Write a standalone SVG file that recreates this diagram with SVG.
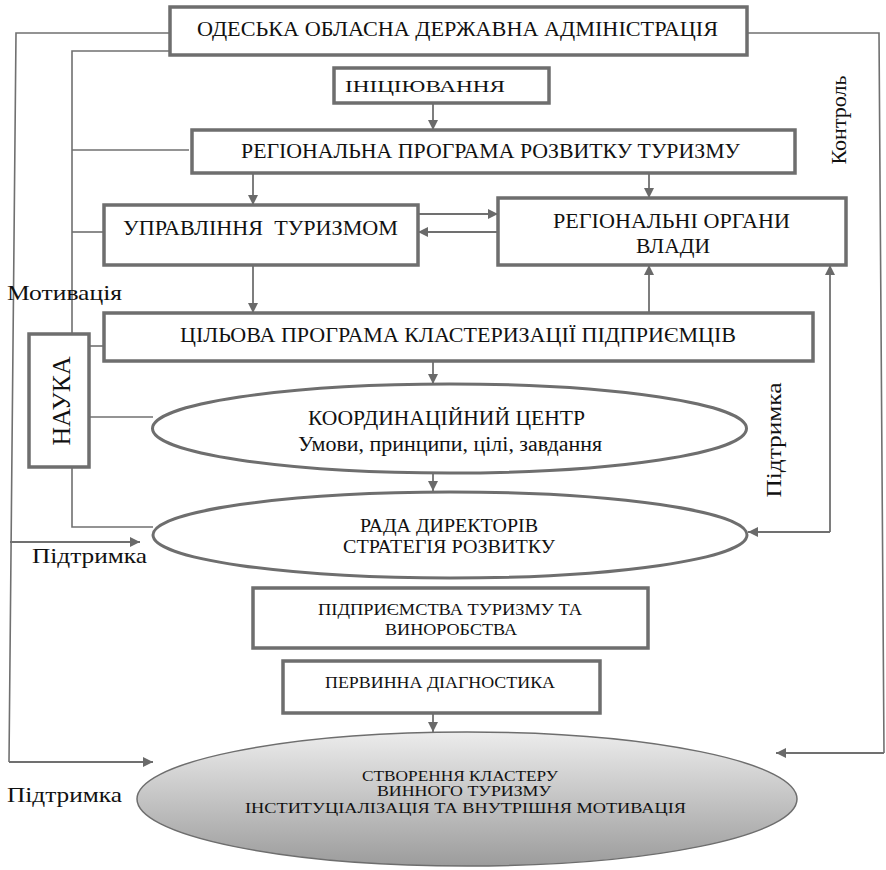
<svg xmlns="http://www.w3.org/2000/svg" width="886" height="870" viewBox="0 0 886 870">
<style>
.box{fill:#fff;stroke:#6e6e6e;stroke-width:3.5}
.ell{fill:#fff;stroke:#6e6e6e;stroke-width:3}
.ln{fill:none;stroke:#707070;stroke-width:1.6}
.ar{fill:none;stroke:#707070;stroke-width:1.8;marker-end:url(#ah)}
text{font-family:"Liberation Serif","Times New Roman",serif;fill:#111}
.c{text-anchor:middle}
</style>
<defs>
<marker id="ah" markerUnits="userSpaceOnUse" markerWidth="12" markerHeight="10" refX="10" refY="5" orient="auto">
<path d="M0,0 L10,5 L0,10 Z" fill="#6a6a6a"/>
</marker>
<linearGradient id="g" x1="0" y1="0" x2="0" y2="1">
<stop offset="0" stop-color="#ececec"/>
<stop offset="1" stop-color="#9c9c9c"/>
</linearGradient>
</defs>
<g id="connectors">
<polyline class="ln" points="170,33 16,33 9,762"/>
<polyline class="ln" points="170,51 72,51 72,334"/>
<line class="ln" x1="72" y1="150" x2="189" y2="150"/>
<line class="ln" x1="72" y1="232" x2="104" y2="232"/>
<line class="ln" x1="89" y1="346" x2="104" y2="346"/>
<line class="ln" x1="89" y1="417" x2="153" y2="417"/>
<polyline class="ln" points="72,467 72,527 153,527"/>
<line class="ar" x1="9" y1="762" x2="153" y2="762"/>
<line class="ar" x1="10" y1="542" x2="140" y2="542"/>
<polyline class="ln" points="747,33 879,33 884,753"/>
<line class="ar" x1="884" y1="753" x2="776" y2="753"/>
<line class="ar" x1="830" y1="532" x2="830" y2="265"/>
<line class="ar" x1="830" y1="532" x2="748" y2="532"/>
<line class="ar" x1="649" y1="313" x2="649" y2="265"/>
<line class="ar" x1="433" y1="103" x2="433" y2="130"/>
<line class="ar" x1="253" y1="174" x2="253" y2="205"/>
<line class="ar" x1="649" y1="173" x2="649" y2="198"/>
<line class="ar" x1="253" y1="265" x2="253" y2="313"/>
<line class="ar" x1="433" y1="361" x2="433" y2="384"/>
<line class="ar" x1="433" y1="473" x2="433" y2="491"/>
<line class="ar" x1="433" y1="713" x2="433" y2="732"/>
<line class="ar" x1="418" y1="214" x2="498" y2="214"/>
<line class="ar" x1="498" y1="232" x2="418" y2="232"/>
</g>
<g id="oda">
<rect class="box" x="170" y="7" width="577" height="48"/>
<text class="c" x="457.5" y="36" font-size="21" textLength="521" lengthAdjust="spacingAndGlyphs">ОДЕСЬКА ОБЛАСНА ДЕРЖАВНА АДМІНІСТРАЦІЯ</text>
</g>
<g id="init">
<rect class="box" x="334" y="68" width="215" height="35"/>
<text class="c" x="425" y="92" font-size="16" textLength="160" lengthAdjust="spacingAndGlyphs">ІНІЦІЮВАННЯ</text>
</g>
<g id="regprog">
<rect class="box" x="192" y="130" width="603" height="43"/>
<text class="c" x="490.5" y="158" font-size="20.5" textLength="499" lengthAdjust="spacingAndGlyphs">РЕГІОНАЛЬНА ПРОГРАМА РОЗВИТКУ ТУРИЗМУ</text>
</g>
<g id="upr">
<rect class="box" x="104" y="205" width="314" height="60"/>
<text class="c" x="260.5" y="235" font-size="21" textLength="275" lengthAdjust="spacingAndGlyphs" xml:space="preserve">УПРАВЛІННЯ  ТУРИЗМОМ</text>
</g>
<g id="organy">
<rect class="box" x="498" y="198" width="348" height="67"/>
<text class="c" x="671.5" y="228" font-size="21" textLength="237" lengthAdjust="spacingAndGlyphs">РЕГІОНАЛЬНІ ОРГАНИ</text>
<text class="c" x="673" y="253" font-size="21" textLength="74" lengthAdjust="spacingAndGlyphs">ВЛАДИ</text>
</g>
<g id="tsil">
<rect class="box" x="104" y="313" width="709" height="48"/>
<text class="c" x="458" y="342" font-size="21" textLength="556" lengthAdjust="spacingAndGlyphs">ЦІЛЬОВА ПРОГРАМА КЛАСТЕРИЗАЦІЇ ПІДПРИЄМЦІВ</text>
</g>
<g id="nauka">
<rect class="box" x="29" y="334" width="60" height="133"/>
<text class="c" transform="translate(70,401) rotate(-90)" x="0" y="0" font-size="25" textLength="89" lengthAdjust="spacingAndGlyphs">НАУКА</text>
</g>
<g id="koord">
<ellipse class="ell" cx="449.5" cy="428.5" rx="297" ry="44.5"/>
<text class="c" x="446.5" y="425" font-size="21.5" textLength="277" lengthAdjust="spacingAndGlyphs">КООРДИНАЦІЙНИЙ ЦЕНТР</text>
<text class="c" x="450" y="451" font-size="20" textLength="304" lengthAdjust="spacingAndGlyphs">Умови, принципи, цілі, завдання</text>
</g>
<g id="rada">
<ellipse class="ell" cx="450" cy="535" rx="297" ry="43"/>
<text class="c" x="449" y="532" font-size="19" textLength="178" lengthAdjust="spacingAndGlyphs">РАДА ДИРЕКТОРІВ</text>
<text class="c" x="449" y="553" font-size="19" textLength="212" lengthAdjust="spacingAndGlyphs">СТРАТЕГІЯ РОЗВИТКУ</text>
</g>
<g id="pidpr">
<rect class="box" x="253" y="588" width="395" height="60"/>
<text class="c" x="450" y="615" font-size="16.5" textLength="264" lengthAdjust="spacingAndGlyphs">ПІДПРИЄМСТВА ТУРИЗМУ ТА</text>
<text class="c" x="451" y="635" font-size="16.5" textLength="132" lengthAdjust="spacingAndGlyphs">ВИНОРОБСТВА</text>
</g>
<g id="diag">
<rect class="box" x="283" y="661" width="317" height="52"/>
<text class="c" x="440" y="688" font-size="17" textLength="230" lengthAdjust="spacingAndGlyphs">ПЕРВИННА ДІАГНОСТИКА</text>
</g>
<g id="cluster">
<ellipse cx="467" cy="799" rx="330" ry="67" fill="url(#g)" stroke="#6e6e6e" stroke-width="1.5"/>
<text class="c" x="460" y="781" font-size="15" textLength="196" lengthAdjust="spacingAndGlyphs">СТВОРЕННЯ КЛАСТЕРУ</text>
<text class="c" x="464" y="796" font-size="15" textLength="174" lengthAdjust="spacingAndGlyphs">ВИННОГО ТУРИЗМУ</text>
<text class="c" x="465.5" y="813" font-size="15" textLength="441" lengthAdjust="spacingAndGlyphs">ІНСТИТУЦІАЛІЗАЦІЯ ТА ВНУТРІШНЯ МОТИВАЦІЯ</text>
</g>
<g id="labels">
<text x="7" y="300" font-size="22" textLength="115" lengthAdjust="spacingAndGlyphs">Мотивація</text>
<text x="32" y="563" font-size="22" textLength="115" lengthAdjust="spacingAndGlyphs">Підтримка</text>
<text x="7" y="802" font-size="22" textLength="115" lengthAdjust="spacingAndGlyphs">Підтримка</text>
<text class="c" transform="translate(846,120) rotate(-90)" font-size="20" textLength="89" lengthAdjust="spacingAndGlyphs">Контроль</text>
<text class="c" transform="translate(781,440) rotate(-90)" font-size="21" textLength="115" lengthAdjust="spacingAndGlyphs">Підтримка</text>
</g>
</svg>
